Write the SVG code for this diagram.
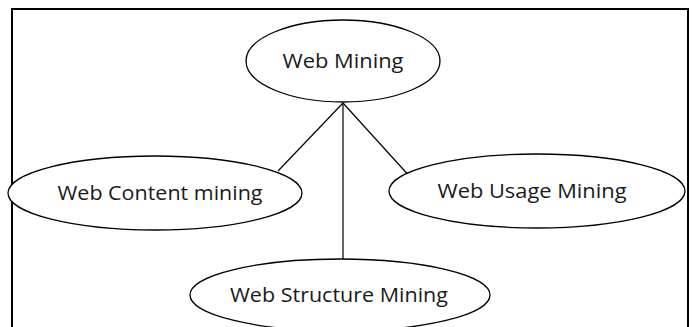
<svg xmlns="http://www.w3.org/2000/svg" width="692" height="327" viewBox="0 0 692 327">
  <style>
    .node ellipse { fill: #ffffff; stroke: #000000; stroke-width: 1.3; }
    .node text { font-family: "Open Sans", "Liberation Sans", sans-serif; font-size: 20.5px; fill: #1a1a1a; text-anchor: middle; }
    .edges line { stroke: #000000; stroke-width: 1.2; }
  </style>
  <rect x="0" y="0" width="692" height="327" fill="#ffffff"/>
  <!-- outer frame -->
  <rect x="12" y="9" width="676" height="330" fill="none" stroke="#000000" stroke-width="2"/>
  <g class="edges">
    <line x1="343" y1="103" x2="278" y2="171"/>
    <line x1="343" y1="103" x2="343" y2="259"/>
    <line x1="343" y1="103" x2="412" y2="179"/>
  </g>
  <g id="web-mining" class="node">
    <ellipse cx="343" cy="61" rx="97" ry="41"/>
    <text x="343" y="68" textLength="121" lengthAdjust="spacingAndGlyphs">Web Mining</text>
  </g>
  <g id="web-content-mining" class="node">
    <ellipse cx="155" cy="193" rx="147" ry="37"/>
    <text x="160" y="200" textLength="205" lengthAdjust="spacingAndGlyphs">Web Content mining</text>
  </g>
  <g id="web-usage-mining" class="node">
    <ellipse cx="537" cy="191" rx="148" ry="37"/>
    <text x="532" y="198" textLength="189" lengthAdjust="spacingAndGlyphs">Web Usage Mining</text>
  </g>
  <g id="web-structure-mining" class="node">
    <ellipse cx="340" cy="295" rx="150" ry="36"/>
    <text x="339" y="302" textLength="218" lengthAdjust="spacingAndGlyphs">Web Structure Mining</text>
  </g>
</svg>
